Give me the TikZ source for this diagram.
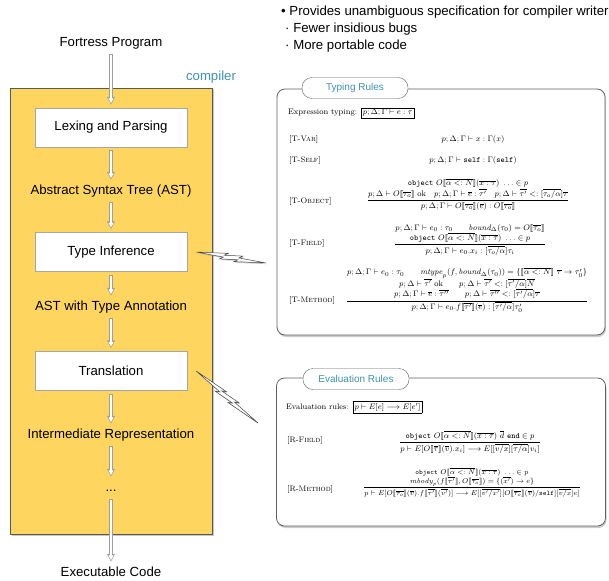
\documentclass[tikz,border=0pt]{standalone}
\usepackage{fontspec}
\usepackage{amsmath}
\usetikzlibrary{positioning, calc, arrows.meta, shadows}

\newfontfamily\helv{Liberation Sans}
\definecolor{compyellow}{RGB}{253,213,95}
\definecolor{tabblue}{RGB}{62,145,180}
\setlength{\fboxsep}{1.5pt}
\setlength{\fboxrule}{0.4pt}

% semantic brackets and inference rules
\newcommand*\openbr{[\![}
\newcommand*\closebr{]\!]}
\newcommand{\rulefrac}[2]{\dfrac{\begin{array}{@{}c@{}}#1\end{array}}{#2}}

% lightning bolt from one anchor to another (two jags)
\newcommand{\bolt}[2]{%
  \path ($(#1)+(9,0)$) coordinate (bs) (#2) coordinate (be);
  \filldraw[flash] (bs)
    -- ($(bs)!0.45!(be)!3.6pt!90:(be)$) -- ($(bs)!0.40!(be)!1.2pt!90:(be)$)
    -- ($(bs)!0.66!(be)!3.2pt!90:(be)$) -- ($(bs)!0.61!(be)!0.8pt!90:(be)$)
    -- (be)
    -- ($(bs)!0.55!(be)!3.6pt!-90:(be)$) -- ($(bs)!0.60!(be)!1.2pt!-90:(be)$)
    -- ($(bs)!0.34!(be)!3.2pt!-90:(be)$) -- ($(bs)!0.39!(be)!0.8pt!-90:(be)$)
    -- cycle;}

\begin{document}
\begin{tikzpicture}[
    x=1pt, y=-1pt,
    node distance=60pt, on grid,
    font=\helv\fontsize{13.2}{15.5}\selectfont,
    point/.style={anchor=west, inner sep=0pt},
    compbox/.style={draw=black!65, fill=compyellow, minimum width=202pt, minimum height=446pt,
        drop shadow={shadow xshift=1.5pt, shadow yshift=-1.5pt, opacity=0.45}},
    stage/.style={draw=gray!70, fill=white, minimum width=152pt, minimum height=39pt, inner sep=0pt},
    datum/.style={text height=9.5pt, text depth=2.5pt, inner sep=2pt},
    pipe/.style={draw=gray!75, line width=3.4pt, shorten <=#1, shorten >=#1,
        -{Triangle[length=8pt, width=7.5pt]},
        postaction={draw=white, line width=1.8pt, shorten <=#1+0.8pt, shorten >=#1+1.5pt,
            -{Triangle[length=5pt, width=4.6pt]}}},
    pipe/.default=3pt,
    panel/.style={draw=gray!75!black, fill=white, line width=0.8pt, rounded corners=8pt,
        drop shadow={shadow xshift=1pt, shadow yshift=-2pt, opacity=0.4}},
    tab/.style={draw=gray!75!black, fill=white, rounded corners=10pt, minimum width=106pt,
        minimum height=21pt, text=tabblue, font=\helv\fontsize{10}{12}\selectfont},
    judg/.style={font=\rmfamily\footnotesize, inner sep=1pt},
    rulename/.style={font=\rmfamily\footnotesize, anchor=west, inner sep=0pt},
    flash/.style={fill=white, draw=gray!55!black, line width=0.5pt, line join=miter,
        drop shadow={shadow xshift=1pt, shadow yshift=-1.2pt, opacity=0.4}}
]
\useasboundingbox (0,0) rectangle (609,580);

% Talking points
\node[point] (pt1) at (281,12) {• Provides unambiguous specification for compiler writers};
\node[point] (pt2) at (285,29) {· Fewer insidious bugs};
\node[point] (pt3) at (285,46) {· More portable code};

% Compiler box
\node[compbox] (compiler) at (111,311) {};
\node[text=tabblue] (complabel) at (211,77) {compiler};

% Stages of the compiler
\node[datum] (prog) at (111,43) {Fortress Program};
\node[stage, below=84.5pt of prog] (lex) {Lexing and Parsing};
\node[datum, below=63.5pt of lex] (ast) {Abstract Syntax Tree (AST)};
\node[stage, below=61pt of ast] (infer) {Type Inference};
\node[datum, below=55pt of infer] (astt) {AST with Type Annotation};
\node[stage, below=64pt of astt] (trans) {Translation};
\node[datum, below=64pt of trans] (ir) {Intermediate Representation};
\node[datum, below=53pt of ir] (dots) {...};
\node[datum, below=85pt of dots] (exe) {Executable Code};

\draw[pipe] (prog) -- (lex);
\draw[pipe] (lex) -- (ast);
\draw[pipe] (ast) -- (infer);
\draw[pipe] (infer) -- (astt);
\draw[pipe] (astt) -- (trans);
\draw[pipe] (trans) -- (ir);
\draw[pipe] (ir) -- (dots);
\draw[pipe] (dots) -- (exe);

% Typing rules
\node[panel, minimum width=328pt, minimum height=246pt] (typing) at (441,212) {};
\node[tab] (typtab) at (355,88) {Typing Rules};

\node[judg, anchor=west] (exptyp) at (287,113) {Expression typing: \fbox{$p;\Delta;\Gamma \vdash e : \tau$}};

\node[rulename] (tvar) at (289,140) {[T-\textsc{Var}]};
\node[judg] (tvarj) at (473,140) {$p;\Delta;\Gamma \vdash x : \Gamma(x)$};

\node[rulename] (tself) at (289,160) {[T-\textsc{Self}]};
\node[judg] (tselfj) at (473,160) {$p;\Delta;\Gamma \vdash \mathtt{self} : \Gamma(\mathtt{self})$};

\node[rulename] (tobj) at (289,201) {[T-\textsc{Object}]};
\node[judg] (tobjj) at (468,194.5) {$\rulefrac{
    \mathtt{object}\ O\openbr\overline{\alpha <: N}\closebr(\overline{x : \tau})\ \ldots \in p \\
    p;\Delta \vdash O\openbr\overline{\tau_o}\closebr\ \mathrm{ok} \quad
    p;\Delta;\Gamma \vdash \overline{e} : \overline{\tau'} \quad
    p;\Delta \vdash \overline{\tau'} <: [\overline{\tau_o/\alpha}]\overline{\tau}}
  {p;\Delta;\Gamma \vdash O\openbr\overline{\tau_o}\closebr(\overline{e}) : O\openbr\overline{\tau_o}\closebr}$};

\node[rulename] (tfield) at (289,243) {[T-\textsc{Field}]};
\node[judg] (tfieldj) at (470,239.5) {$\rulefrac{
    p;\Delta;\Gamma \vdash e_0 : \tau_0 \qquad \mathit{bound}_\Delta(\tau_0) = O\openbr\overline{\tau_o}\closebr \\
    \mathtt{object}\ O\openbr\overline{\alpha <: N}\closebr(\overline{x : \tau})\ \ldots \in p}
  {p;\Delta;\Gamma \vdash e_0.x_i : [\overline{\tau_o/\alpha}]\tau_i}$};

\node[rulename] (tmeth) at (289,300) {[T-\textsc{Method}]};
\node[judg] (tmethj) at (467,290) {$\rulefrac{
    p;\Delta;\Gamma \vdash e_0 : \tau_0 \qquad
    \mathit{mtype}_p(f, \mathit{bound}_\Delta(\tau_0)) = \{\openbr\overline{\alpha <: N}\closebr\ \overline{\tau} \to \tau_0'\} \\
    p;\Delta \vdash \overline{\tau'}\ \mathrm{ok} \qquad p;\Delta \vdash \overline{\tau'} <: [\overline{\tau'/\alpha}]\overline{N} \\
    p;\Delta;\Gamma \vdash \overline{e} : \overline{\tau''} \qquad p;\Delta \vdash \overline{\tau''} <: [\overline{\tau'/\alpha}]\overline{\tau}}
  {p;\Delta;\Gamma \vdash e_0.f\openbr\overline{\tau'}\closebr(\overline{e}) : [\overline{\tau'/\alpha}]\tau_0'}$};

% Evaluation rules
\node[panel, minimum width=329pt, minimum height=148pt] (evalp) at (441,452) {};
\node[tab] (evaltab) at (356,379) {Evaluation Rules};

\node[judg, anchor=west] (evrel) at (285,407) {Evaluation rules: \fbox{$p \vdash E[e] \longrightarrow E[e']$}};

\node[rulename] (rfield) at (287,440) {[R-\textsc{Field}]};
\node[judg] (rfieldj) at (470,442) {$\rulefrac{
    \mathtt{object}\ O\openbr\overline{\alpha <: N}\closebr(\overline{x : \tau})\ \overline{d}\ \mathtt{end} \in p}
  {p \vdash E[O\openbr\overline{\tau}\closebr(\overline{v}).x_i] \longrightarrow E[[\overline{v/x}][\overline{\tau/\alpha}]v_i]}$};

\node[rulename] (rmeth) at (287,489) {[R-\textsc{Method}]};
\node[judg, font=\rmfamily\scriptsize] (rmethj) at (472,482.5) {$\rulefrac{
    \mathtt{object}\ O\openbr\overline{\alpha <: N}\closebr(\overline{x : \tau})\ \ldots \in p \\
    \mathit{mbody}_p(f\openbr\overline{\tau'}\closebr, O\openbr\overline{\tau_o}\closebr) = \{(\overline{x'}) \to e\}}
  {p \vdash E[O\openbr\overline{\tau_o}\closebr(\overline{v}).f\openbr\overline{\tau'}\closebr(\overline{v'})] \longrightarrow
   E[[\overline{v'/x'}][O\openbr\overline{\tau_o}\closebr(\overline{v})/\mathtt{self}][\overline{v/x}]e]}$};

% Links from the stages to their rules
\coordinate (typin) at (266,263);
\coordinate (evalin) at (258,423);
\bolt{infer.east}{typin}
\bolt{trans.east}{evalin}

\end{tikzpicture}
\end{document}
